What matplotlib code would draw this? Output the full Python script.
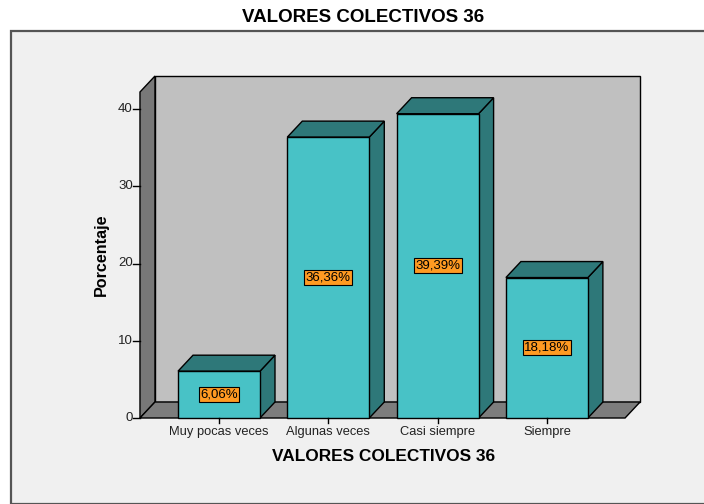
import matplotlib.pyplot as plt
from matplotlib.patches import Polygon, Rectangle

plt.rcParams['font.family'] = ['Liberation Sans', 'DejaVu Sans']

categories = ['Muy pocas veces', 'Algunas veces', 'Casi siempre', 'Siempre']
values = [6.06, 36.36, 39.39, 18.18]
labels = ['6,06%', '36,36%', '39,39%', '18,18%']
yticks = [0, 10, 20, 30, 40]

front_col = '#48c2c6'
dark_col = '#2e7879'
wall_col = '#c0c0c0'
side_col = '#787878'
floor_col = '#7d7d7d'
box_col = '#ff9a22'

fig = plt.figure(figsize=(7.04, 5.04), dpi=100)
fig.patch.set_facecolor('white')

# panel frame
fig.patches.append(Rectangle((11 / 704, 0), 1.0, 1 - 31 / 504, transform=fig.transFigure,
                             facecolor='#f0f0f0', edgecolor='#555555', lw=1.6, zorder=-5))
fig.text(363 / 704, 1 - 17.5 / 504, 'VALORES COLECTIVOS 36', ha='center', va='center',
         fontsize=13.5, fontweight='bold')

ax = fig.add_axes([0, 0, 1, 1])
ax.patch.set_alpha(0)
ax.set_xlim(-219 / 109.3, (704 - 219) / 109.3)
ax.set_ylim(-86 / 7.725, (504 - 86) / 7.725)
ax.axis('off')

dx = 15 / 109.3   # depth offset in x units
dy = 2.07         # depth offset in y units
x0, x1 = -0.723, 3.715
ytop = 42.2
w = 0.75

# back wall, left wall, floor
ax.add_patch(Polygon([(x0 + dx, dy), (x1 + dx, dy), (x1 + dx, ytop + dy), (x0 + dx, ytop + dy)],
                     closed=True, fc=wall_col, ec='black', lw=1))
ax.add_patch(Polygon([(x0, 0), (x0 + dx, dy), (x0 + dx, ytop + dy), (x0, ytop)],
                     closed=True, fc=side_col, ec='black', lw=1))
ax.add_patch(Polygon([(x0, 0), (x1, 0), (x1 + dx, dy), (x0 + dx, dy)],
                     closed=True, fc=floor_col, ec='black', lw=1))

# y axis ticks
for t in yticks:
    ax.plot([x0 - 0.06, x0], [t, t], color='black', lw=1)
    ax.text(x0 - 0.065, t, str(t), ha='right', va='center', fontsize=9.5, color='#222222')
ax.text(-1.08, 21.1, 'Porcentaje', rotation=90, ha='center', va='center',
        fontsize=11.6, fontweight='bold')

for i, (v, lab, cat) in enumerate(zip(values, labels, categories)):
    l, r = i - w / 2, i + w / 2
    ax.add_patch(Polygon([(r, 0), (r + dx, dy), (r + dx, v + dy), (r, v)],
                         closed=True, fc=dark_col, ec='black', lw=1))
    ax.add_patch(Polygon([(l, v), (r, v), (r + dx, v + dy), (l + dx, v + dy)],
                         closed=True, fc=dark_col, ec='black', lw=1))
    ax.add_patch(Rectangle((l, 0), w, v, fc=front_col, ec='black', lw=1))
    ax.text(i, v / 2, lab, ha='center', va='center', fontsize=9.5,
            bbox=dict(boxstyle='square,pad=0.12', fc=box_col, ec='black', lw=0.8))
    ax.plot([i, i], [0, -0.7], color='black', lw=1)
    ax.text(i, -1.8, cat, ha='center', va='center', fontsize=9.3, color='#222222')

ax.text(1.505, -5.0, 'VALORES COLECTIVOS 36', ha='center', va='center',
        fontsize=12.4, fontweight='bold')

fig.savefig('out.png', dpi=100)
